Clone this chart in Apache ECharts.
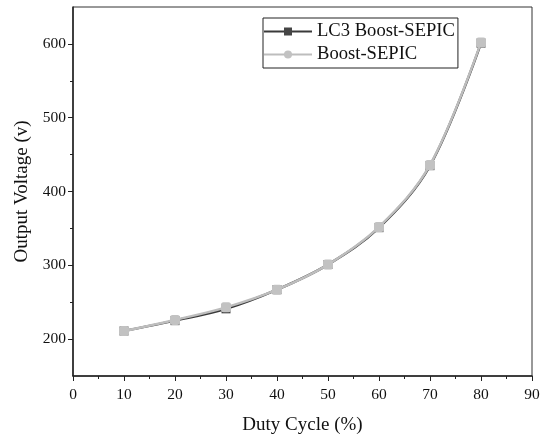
<!DOCTYPE html>
<html><head><meta charset="utf-8">
<script src="https://cdn.jsdelivr.net/npm/echarts@6/dist/echarts.min.js"></script>
<style>html,body{margin:0;padding:0;background:#fff}#c{width:542px;height:435px}</style>
</head><body><div id="c"></div>
<script>
const duty = [10, 20, 30, 40, 50, 60, 70, 80];
const lc3 = [211, 225, 241, 267, 301, 351, 435, 601];
const boost = [211, 226, 243, 267, 301, 352, 436, 602];
const yMajor = [200, 300, 400, 500, 600];
const yMinor = [250, 350, 450, 550];
const font = 'Liberation Serif';

const chart = echarts.init(document.getElementById('c'), null, {renderer: 'canvas'});
const pair = (xs, ys) => xs.map((x, i) => [x, ys[i]]);
chart.setOption({
  animation: false,
  grid: {left: 73, right: 10, top: 7, bottom: 59, outerBoundsMode: 'none', containLabel: false,
    show: true, borderColor: '#333', borderWidth: 1, backgroundColor: 'transparent'},
  legend: {
    left: 263, top: 18, orient: 'vertical',
    borderColor: '#222', borderWidth: 1, padding: [4, 3, 4, 0],
    itemWidth: 48, itemHeight: 10, itemGap: 4,
    textStyle: {fontFamily: font, fontSize: 18.6, color: '#111'},
    data: ['LC3 Boost-SEPIC', 'Boost-SEPIC']
  },
  xAxis: {
    type: 'value', min: 0, max: 90, interval: 10,
    name: 'Duty Cycle (%)', nameLocation: 'middle', nameGap: 40,
    nameTextStyle: {fontFamily: font, fontSize: 19, color: '#111'},
    axisLine: {lineStyle: {color: '#222', width: 1.5}},
    axisTick: {inside: false, length: 5, lineStyle: {color: '#222', width: 1}},
    minorTick: {show: true, splitNumber: 2, length: 3, lineStyle: {color: '#222'}},
    axisLabel: {fontFamily: font, fontSize: 15.5, color: '#111', margin: 11},
    splitLine: {show: false}
  },
  yAxis: [{
    type: 'value', min: 150, max: 650,
    name: 'Output Voltage (v)', nameLocation: 'middle', nameGap: 40,
    nameTextStyle: {fontFamily: font, fontSize: 19, color: '#111'},
    axisLine: {lineStyle: {color: '#222', width: 1.5}},
    axisTick: {inside: false, length: 5, customValues: yMajor, lineStyle: {color: '#222', width: 1}},
    axisLabel: {fontFamily: font, fontSize: 15.5, color: '#111', margin: 7, customValues: yMajor},
    splitLine: {show: false}
  }, {
    type: 'value', min: 150, max: 650, position: 'left',
    axisLine: {show: false},
    axisTick: {show: true, inside: false, length: 3, customValues: yMinor, lineStyle: {color: '#222', width: 1}},
    axisLabel: {show: false},
    splitLine: {show: false}
  }],
  series: [{
    name: 'LC3 Boost-SEPIC', type: 'line', smooth: 0.35, z: 2,
    data: pair(duty, lc3),
    symbol: 'rect', symbolSize: 9,
    lineStyle: {color: '#3a3a3a', width: 2.5},
    itemStyle: {color: '#454545'}
  }, {
    name: 'Boost-SEPIC', type: 'line', smooth: 0.35, z: 3,
    data: pair(duty, boost).map(v => ({value: v, symbol: 'roundRect', symbolSize: 10})),
    symbol: 'circle', symbolSize: 9,
    lineStyle: {color: '#bdbdbd', width: 2.5},
    itemStyle: {color: '#c2c2c2'}
  }]
});
</script></body></html>
